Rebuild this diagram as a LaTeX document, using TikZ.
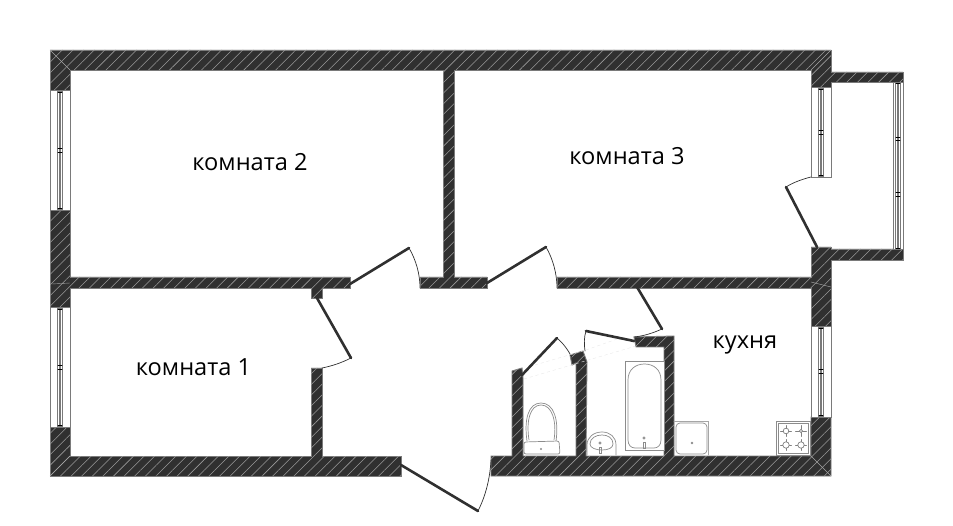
\documentclass[tikz,border=0pt]{standalone}
\usepackage{fontspec}
\setmainfont{Open Sans}
\usepackage{xcolor}
\usetikzlibrary{patterns.meta}
\definecolor{wallfill}{HTML}{303030}
\definecolor{wallline}{HTML}{7A7A7A}
\tikzset{
  wall/.style={draw=wallline,line width=.9pt,fill=wallfill,postaction={pattern={Lines[angle=45,distance=7.5pt,line width=.55pt]},pattern color=gray!80}},
  seam/.style={draw=gray!70,line width=.4pt},
  frame/.style={draw=wallline,line width=.8pt,fill=white},
  glass/.style={draw=wallline,line width=1.6pt},
  tick/.style={draw=black,line width=.7pt},
  leaf/.style={draw=wallfill,line width=2.6pt,line cap=round},
  swing/.style={draw=wallfill,line width=.7pt},
  fixture/.style={draw=gray!90,line width=.7pt,fill=white},
  fixturein/.style={draw=gray!90,line width=.7pt},
  burner/.style={draw=gray,line width=.7pt},
  faint/.style={draw=gray!18,line width=.4pt,dashed},
  roomlabel/.style={font=\fontsize{23.6}{26}\selectfont,text=black,inner sep=0pt}
}
\begin{document}
\begin{tikzpicture}[line cap=round,line join=miter,x=1pt,y=-1pt]
	\useasboundingbox (0,0) rectangle (953,526);
	% walls
	\draw [wall] (50,50)--(831,50)--(831,72)--(903,72)--(903,82)--(831,82)--(831,87)--(811,87)--(811,70)--(454,70)--(454,277)--(487,277)--(487,288)--(420,288)--(420,277)--(443,277)--(443,70)--(70,70)--(70,90)--(50,90)--cycle;
	\draw [wall] (50,210)--(70,210)--(70,277)--(350,277)--(350,288)--(322,288)--(322,298)--(311,298)--(311,288)--(70,288)--(70,307)--(50,307)--cycle;
	\draw [wall] (50,427)--(70,427)--(70,456)--(311,456)--(311,368)--(322,368)--(322,456)--(401,456)--(401,476)--(50,476)--cycle;
	\draw [wall] (491,456)--(512,456)--(512,371)--(522,368)--(523,378)--(523,456)--(576,456)--(576,363)--(572,365)--(570,355)--(583,351)--(587,362)--(586,456)--(664,456)--(664,347)--(636,347)--(634,337)--(674,336)--(674,456)--(811,456)--(811,417)--(831,417)--(831,476)--(491,476)--cycle;
	\draw [wall] (557,277)--(811,277)--(811,247)--(831,247)--(831,249)--(903,249)--(903,260)--(831,260)--(831,326)--(811,326)--(811,288)--(557,288)--cycle;
	% corner seams
	\draw [seam] (50,50)--(70,70);
	\draw [seam] (811,70)--(831,50);
	\draw [seam] (50,476)--(70,456);
	\draw [seam] (811,456)--(831,476);
	\draw [seam] (811,282)--(831,287);
	\draw [seam] (70,283)--(52,284);
	% windows
	\foreach \x/\ya/\yb/\ym in {50/90/210/150,50/307/427/367,811/87/177/132,811/326/417/371.5}{
		\draw [frame] (\x,\ya) rectangle (\x+20,\yb);
		\draw [draw=wallline,line width=.6pt] (\x+7.5,\ya+1) rectangle (\x+12.5,\yb-1);
		\draw [glass] (\x+10,\ya+1)--(\x+10,\yb-1);
		\draw [tick] (\x+8,\ya+2)--(\x+12,\ya+2) (\x+8,\yb-2)--(\x+12,\yb-2);
		\draw [tick] (\x+8,\ym-2)--(\x+12,\ym-2) (\x+8,\ym+2)--(\x+12,\ym+2);
	}
	% balcony window
	\draw [frame] (893,82) rectangle (903,249);
	\draw [draw=wallline,line width=.6pt] (895.5,83) rectangle (900.5,248);
	\draw [glass] (898,83)--(898,248);
	\foreach \t in {83,137,140,192,196,248}
		\draw [tick] (896,\t)--(900,\t);
	% doors
	\draw [leaf] (317,298)--(351,358);
	\draw [swing] (351,358) .. controls (341,363) and (332,366) .. (322,368);
	\draw [leaf] (350,284)--(409,248);
	\draw [swing] (409,248) .. controls (416,260) and (420,274) .. (420,288);
	\draw [leaf] (487,283)--(546,247);
	\draw [swing] (546,247) .. controls (553,259) and (557,274) .. (557,288);
	\draw [leaf] (401,465)--(478,511);
	\draw [swing] (478,511) .. controls (486,495) and (490,478) .. (491,460);
	\draw [leaf] (522,375)--(557,338);
	\draw [swing] (557,338) .. controls (563,343) and (569,351) .. (572,358);
	\draw [leaf] (586,331)--(634,341);
	\draw [swing] (586,331) .. controls (584,337) and (584,344) .. (585,351);
	\draw [leaf] (637,287)--(662,329);
	\draw [swing] (662,329) .. controls (653,333) and (644,336) .. (634,337);
	\draw [leaf] (817,247)--(786,187);
	\draw [swing] (786,187) .. controls (794,182) and (803,179) .. (811,177);
	% faint construction lines
	\draw [faint] (524,379)--(636,346);
	\draw [faint] (535,365)--(586,350);
	\draw [faint] (586,350)--(620,338);
	% toilet
	\draw [fixture] (527,441) .. controls (524,420) and (528,403) .. (541,403) .. controls (554,403) and (559,420) .. (556,441);
	\draw [fixturein] (529,440) .. controls (526,421) and (530,405) .. (541,405) .. controls (552,405) and (557,421) .. (554,440);
	\draw [fixture,rounded corners=2pt] (524,442) -- (559,441) -- (560,454) -- (524,454) -- cycle;
	\fill [gray!90] (541,449) circle (1.1pt);
	% washbasin
	\draw [fixture] (587,455) -- (587,445) .. controls (587,437) and (594,432) .. (602,432) .. controls (610,432) and (616,437) .. (616,445) -- (616,455);
	\draw [fixturein] (590,444) .. controls (590,438) and (596,435) .. (602,435) .. controls (608,435) and (613,438) .. (613,444) .. controls (613,448) and (608,450) .. (602,450) .. controls (596,450) and (590,448) .. (590,444);
	\draw [fixturein] (600,443) circle (1.2pt);
	\draw [fixturein] (599,447) rectangle (601.5,453);
	% bathtub
	\draw [fixture] (625,361) rectangle (664,450);
	\draw [fixturein] (628,380) .. controls (628,370) and (635,364) .. (644.5,364) .. controls (654,364) and (661,370) .. (661,380) -- (661,440) .. controls (661,445) and (658,448) .. (654,448) -- (635,448) .. controls (631,448) and (628,445) .. (628,440) -- cycle;
	\draw [fixturein] (644,438) circle (1.2pt);
	\draw [fixturein] (643,442) rectangle (645.5,448);
	% kitchen sink
	\draw [draw=gray!70,line width=.6pt] (674,421) -- (708,421) -- (708,455);
	\draw [fixturein,rounded corners=4pt] (676,423) rectangle (707,454);
	\fill [gray!90] (692,443) circle (1.3pt);
	% stove
	\draw [fixture] (776,421) rectangle (810,455);
	\draw [fixturein] (778,423) rectangle (808,453);
	\foreach \bx/\by/\br in {786/431/2.8,801/431/1.6,786/445/3.2,801/445/3.2}{
		\draw [burner] (\bx-5.5,\by)--(\bx+5.5,\by) (\bx,\by-5.5)--(\bx,\by+5.5);
		\draw [burner,fill=white] (\bx,\by) circle (\br pt);
	}
	% labels
	\node [roomlabel] (room2) at (250,162) {комната 2};
	\node [roomlabel] (room3) at (627,156) {комната 3};
	\node [roomlabel] (room1) at (193.5,367) {комната 1};
	\node [roomlabel] (kitchen) at (745,345) {кухня};
\end{tikzpicture}
\end{document}
